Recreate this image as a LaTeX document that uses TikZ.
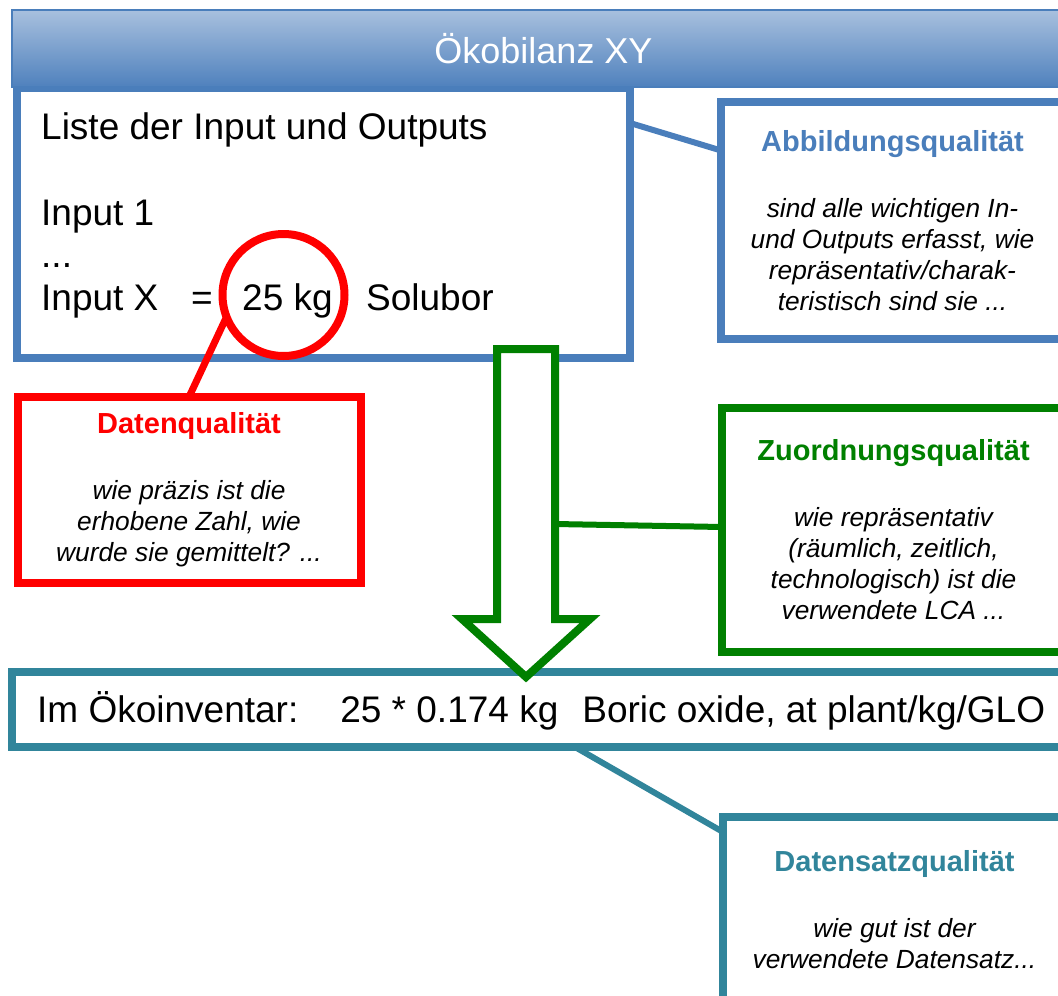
\documentclass[tikz,border=0pt]{standalone}
\usepackage{fontspec}
\setmainfont{Liberation Sans}
\usepackage{xcolor}
\usepackage{tikz}

\definecolor{lcablue}{RGB}{74,126,187}
\definecolor{lcalight}{RGB}{168,192,222}
\definecolor{lcadark}{RGB}{79,129,189}
\definecolor{lcared}{RGB}{255,0,0}
\definecolor{lcagreen}{RGB}{0,128,0}
\definecolor{lcateal}{RGB}{49,133,155}

\newcommand{\qualhead}[2]{{\upshape\bfseries\fontsize{29}{31}\selectfont\color{#1}#2}}

\tikzset{
  txt/.style={anchor=base west, inner sep=0pt, font=\fontsize{37}{43}\selectfont},
  qualbox/.style={draw=#1, line width=8pt, fill=white, minimum width=343pt,
    inner sep=0pt, outer sep=0pt, align=center, font=\fontsize{26.3}{31}\selectfont\itshape},
  link/.style={draw=#1, line width=6pt}
}

\begin{document}
\begin{tikzpicture}[x=1pt, y=-1pt]
		\path[use as bounding box, clip] (0,0) rectangle (1058,996);
		% OEKOBILANZ
		\node[draw=lcablue, line width=8pt, outer sep=0pt, minimum width=613pt, minimum height=270pt] (list) at (323.5,223) {};
		\node[draw=lcablue, line width=2pt, top color=lcalight, bottom color=lcadark, minimum width=1063pt, minimum height=77pt, text=white, font=\fontsize{36}{40}\selectfont] (bar) at (543.5,48.5) {Ökobilanz XY};
		\node[txt] (liste) at (41,139) {Liste der Input und Outputs};
		\node[txt] (inone) at (41,225) {Input 1};
		\node[txt] (dots) at (41,267) {...};
		\node[txt] (inx) at (41,310) {Input X};
		\node[txt] (eq) at (191,310) {=};
		\node[txt] (qty) at (242,310) {25 kg};
		\node[txt] (solubor) at (366,310) {Solubor};
		\node[draw=lcared, line width=8pt, circle, outer sep=0pt, minimum size=122pt] (circ) at (283.5,295) {};
		% QUALITAETEN
		\node[qualbox=lcablue, minimum height=237pt] (abb) at (892.5,220.5) {\qualhead{lcablue}{Abbildungsqualität}\\[35pt]sind alle wichtigen In-\\und Outputs erfasst, wie\\repräsentativ/charak-\\teristisch sind sie ...};
		\draw[link=lcablue] ([yshift=100pt]list.east) -- ([yshift=70pt]abb.west);
		\node[qualbox=lcared, minimum height=186pt] (daten) at (189,490) {\qualhead{lcared}{Datenqualität}\\[35pt]wie präzis ist die\\erhobene Zahl, wie\\wurde sie gemittelt? ...};
		\draw[link=lcared, line width=7pt] (daten.north) -- (circ.201);
		% OEKOINVENTAR
		\node[draw=lcateal, line width=8pt, outer sep=0pt, minimum width=1063pt, minimum height=75pt] (inv) at (543.5,709.5) {};
		\node[txt] (invtext) at (37,722) {Im Ökoinventar:\hspace{42pt}25 * 0.174 kg\hspace{24pt}Boric oxide, at plant/kg/GLO};
		\draw[lcagreen, line width=8pt, fill=white] (497,349) -- (555,349) -- (555,619) -- (590,619) -- (526,677) -- (462,619) -- (497,619) -- cycle;
		\coordinate (shaft) at (555,524);
		\node[qualbox=lcagreen, minimum height=244pt] (zuord) at (893.5,530) {\qualhead{lcagreen}{Zuordnungsqualität}\\[35pt]wie repräsentativ\\(räumlich, zeitlich,\\technologisch) ist die\\verwendete LCA ...};
		\draw[link=lcagreen] (shaft) -- ([yshift=3pt]zuord.west);
		\node[qualbox=lcateal, minimum height=186pt] (dsq) at (894.5,910) {\qualhead{lcateal}{Datensatzqualität}\\[35pt]wie gut ist der\\verwendete Datensatz...};
		\draw[link=lcateal] ([xshift=31.5pt]inv.south) -- ([yshift=-15pt]dsq.north west);
	\end{tikzpicture}
\end{document}
